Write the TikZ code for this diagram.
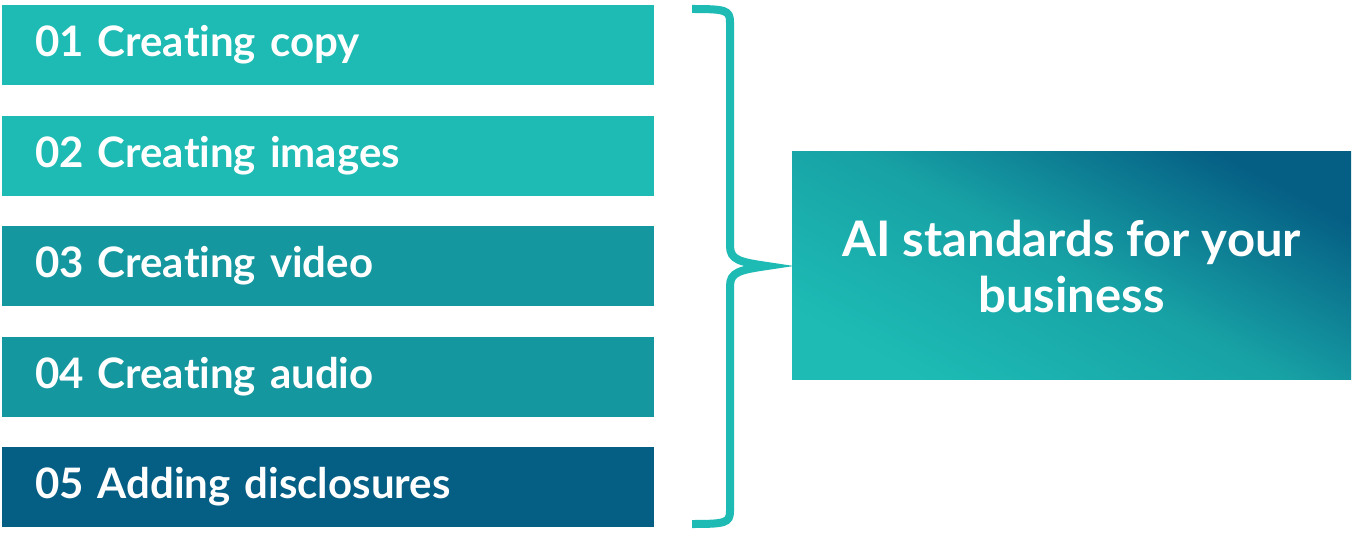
\documentclass[tikz,border=0pt]{standalone}
\usepackage{fontspec}
\setmainfont[RawFeature=-liga]{Lato}
\definecolor{tealA}{HTML}{1DBBB4}
\definecolor{tealB}{HTML}{15979F}
\definecolor{navy}{HTML}{055E84}
\begin{document}
\begin{tikzpicture}[x=1pt,y=-1pt,
  item/.style={anchor=north west,minimum width=652pt,minimum height=80pt,inner ysep=0pt,inner xsep=33pt,outer sep=0pt,
    text=white,font=\fontsize{42}{48}\selectfont\bfseries,align=left,text width=586pt},
  brace/.style={draw=tealA,line width=8pt,line cap=butt}]
\useasboundingbox (0,0) rectangle (1352,540);
\node[item,fill=tealA] (i1) at (2,5) {01 Creating copy};
\node[item,fill=tealA] (i2) at (2,116) {02 Creating images};
\node[item,fill=tealB] (i3) at (2,226) {03 Creating video};
\node[item,fill=tealB] (i4) at (2,337) {04 Creating audio};
\node[item,fill=navy] (i5) at (2,447) {05 Adding disclosures};
\shade[shading=axis,top color=navy,bottom color=tealA,middle color=tealB!70!tealA,shading angle=-28]
  (792,152) rectangle (1351,379);
\node[text=white,font=\fontsize{49}{56}\selectfont\bfseries,align=center,inner sep=0pt] (ai) at (1071.5,266)
  {AI standards for your\\business};
\coordinate (bt) at (692,9);
\coordinate (bb) at (692,524);
\coordinate (tip) at (767,266);
\draw[brace] (bt) .. controls (725,9) and (730,10) .. (730,22) -- (730,246)
  .. controls (730,260) and (740,262) .. (tip)
  .. controls (740,270) and (730,272) .. (730,286) -- (730,511)
  .. controls (730,523) and (725,524) .. (bb);
\end{tikzpicture}
\end{document}
